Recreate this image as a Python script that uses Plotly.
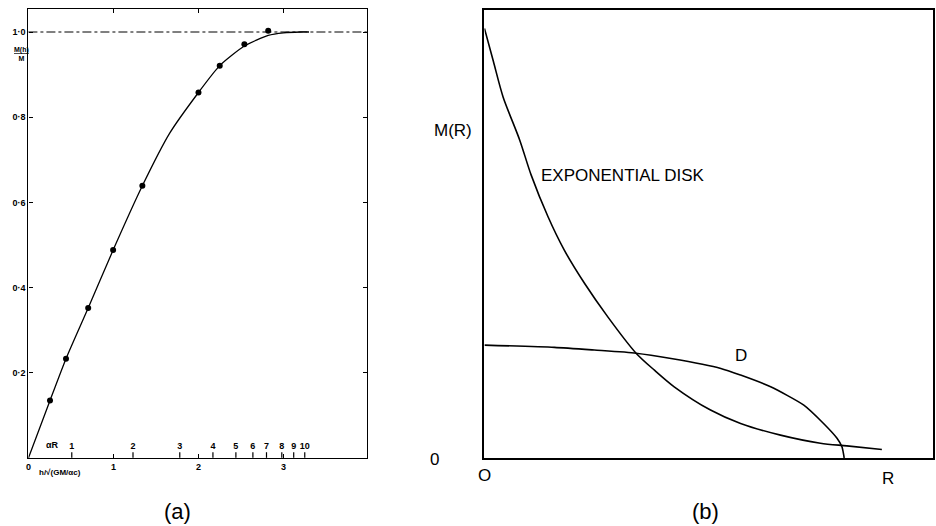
import plotly.graph_objects as go

# ---------------- Panel (a) data ----------------
h_points = [0.254, 0.442, 0.703, 0.996, 1.34, 2.00, 2.25, 2.54, 2.82]
m_points = [0.135, 0.233, 0.352, 0.488, 0.639, 0.858, 0.921, 0.971, 1.003]

h_curve = [0.0, 0.254, 0.442, 0.703, 0.996, 1.34, 1.66, 2.00, 2.25, 2.54, 2.82, 3.0, 3.2, 3.3]
m_curve = [0.0, 0.135, 0.233, 0.352, 0.488, 0.639, 0.762, 0.858, 0.921, 0.967, 0.992, 0.998, 1.0, 1.0]

# alpha*R scale marked along the h axis
alphaR_labels = ["1", "2", "3", "4", "5", "6", "7", "8", "9", "10"]
alphaR_h_pos = [0.51, 1.23, 1.78, 2.17, 2.44, 2.64, 2.80, 2.98, 3.12, 3.25]

a_xticks = [0, 1, 2, 3]
a_xticktext = ["0", "1", "2", "3"]
a_yticks = [0.2, 0.4, 0.6, 0.8, 1.0]
a_yticktext = ["0·2", "0·4", "0·6", "0·8", "1·0"]

# ---------------- Panel (b) data ----------------
exp_R = [0.0, 0.02, 0.0415, 0.0785, 0.104, 0.1415, 0.178, 0.223, 0.275, 0.338, 0.379,
         0.423, 0.504, 0.571, 0.66, 0.749, 0.808, 0.886]
exp_M = [0.959, 0.885, 0.806, 0.710, 0.632, 0.539, 0.464, 0.390, 0.315, 0.234, 0.196,
         0.159, 0.107, 0.077, 0.051, 0.033, 0.027, 0.019]

d_R = [0.0, 0.156, 0.245, 0.338, 0.416, 0.527, 0.571, 0.638, 0.712, 0.756, 0.786, 0.797, 0.802]
d_M = [0.252, 0.247, 0.241, 0.234, 0.222, 0.200, 0.185, 0.159, 0.118, 0.077, 0.044, 0.025, 0.0]

W, H = 936, 526
FONT = "Liberation Sans"

def px_x(p):
    return p / W

def px_y(p):
    return 1 - p / H

fig = go.Figure()

# panel (a)
fig.add_trace(go.Scatter(x=h_curve, y=m_curve, mode="lines",
                         line=dict(color="black", width=1.3, shape="spline", smoothing=0.6),
                         xaxis="x", yaxis="y", hoverinfo="skip"))
fig.add_trace(go.Scatter(x=h_points, y=m_points, mode="markers",
                         marker=dict(color="black", size=6),
                         xaxis="x", yaxis="y"))
fig.add_trace(go.Scatter(x=alphaR_h_pos, y=[0.007] * len(alphaR_h_pos),
                         mode="markers+text", text=alphaR_labels,
                         textposition="top center",
                         textfont=dict(family=FONT, size=9, color="black", weight="bold"),
                         marker=dict(symbol="line-ns", size=4,
                                     line=dict(color="black", width=1.2)),
                         xaxis="x", yaxis="y", cliponaxis=False))

fig.add_shape(type="line", xref="x domain", yref="y", x0=0, x1=1, y0=1.0, y1=1.0,
              line=dict(color="black", width=1, dash="dashdot"))

# panel (b)
fig.add_trace(go.Scatter(x=exp_R, y=exp_M, mode="lines",
                         line=dict(color="black", width=1.6, shape="spline", smoothing=0.8),
                         xaxis="x2", yaxis="y2"))
fig.add_trace(go.Scatter(x=d_R, y=d_M, mode="lines",
                         line=dict(color="black", width=1.6, shape="spline", smoothing=0.6),
                         xaxis="x2", yaxis="y2"))

a_left, a_right, a_top, a_bot = 25.5, 365, 9, 458
b_left, b_right, b_top, b_bot = 483, 933, 10, 458

fig.update_layout(
    width=W, height=H,
    margin=dict(l=0, r=0, t=0, b=0),
    paper_bgcolor="white", plot_bgcolor="white",
    showlegend=False,
    font=dict(family=FONT, color="black"),
    xaxis=dict(domain=[px_x(a_left), px_x(a_right)], range=[0, 3.98],
               showgrid=False, zeroline=False, showline=True, linecolor="black",
               linewidth=1.3, mirror="ticks", ticks="inside", ticklen=4,
               tickcolor="black", tickvals=a_xticks, ticktext=a_xticktext,
               tickfont=dict(size=9, family=FONT, weight="bold"), anchor="y"),
    yaxis=dict(domain=[px_y(a_bot), px_y(a_top)], range=[0, 1.054],
               showgrid=False, zeroline=False, showline=True, linecolor="black",
               linewidth=1.3, mirror="ticks", ticks="inside", ticklen=4,
               tickcolor="black", tickvals=a_yticks, ticktext=a_yticktext,
               tickfont=dict(size=9, family=FONT, weight="bold"), anchor="x"),
    xaxis2=dict(domain=[px_x(b_left), px_x(b_right)], range=[0, 1],
                showgrid=False, zeroline=False, showline=True, linecolor="black",
                linewidth=1.8, mirror=True, showticklabels=False, ticks="", anchor="y2"),
    yaxis2=dict(domain=[px_y(b_bot), px_y(b_top)], range=[0, 1],
                showgrid=False, zeroline=False, showline=True, linecolor="black",
                linewidth=1.8, mirror=True, showticklabels=False, ticks="", anchor="x2"),
)

def ann(text, x, y, size, xanchor="center", bold=False):
    fig.add_annotation(text=text, xref="paper", yref="paper", x=px_x(x), y=px_y(y),
                       xanchor=xanchor, yanchor="middle", showarrow=False,
                       font=dict(family=FONT, size=size, color="black",
                                 weight="bold" if bold else "normal"))

# panel (a) labels
ann("<u>M(h)</u><br>M", 19, 54, 7, bold=True)
ann("αR", 50, 445, 9, bold=True)
ann("h/√(GM/αc)", 57, 472, 8, bold=True)
ann("(a)", 175, 511, 22)

# panel (b) labels
ann("M(R)", 451, 130, 17)
ann("EXPONENTIAL DISK", 538, 175, 17, xanchor="left")
ann("D", 740, 355, 17)
ann("0", 433, 459, 17)
ann("O", 483, 475, 17)
ann("R", 888, 478, 17)
ann("(b)", 705, 511, 22)

fig.write_html("out.html")
